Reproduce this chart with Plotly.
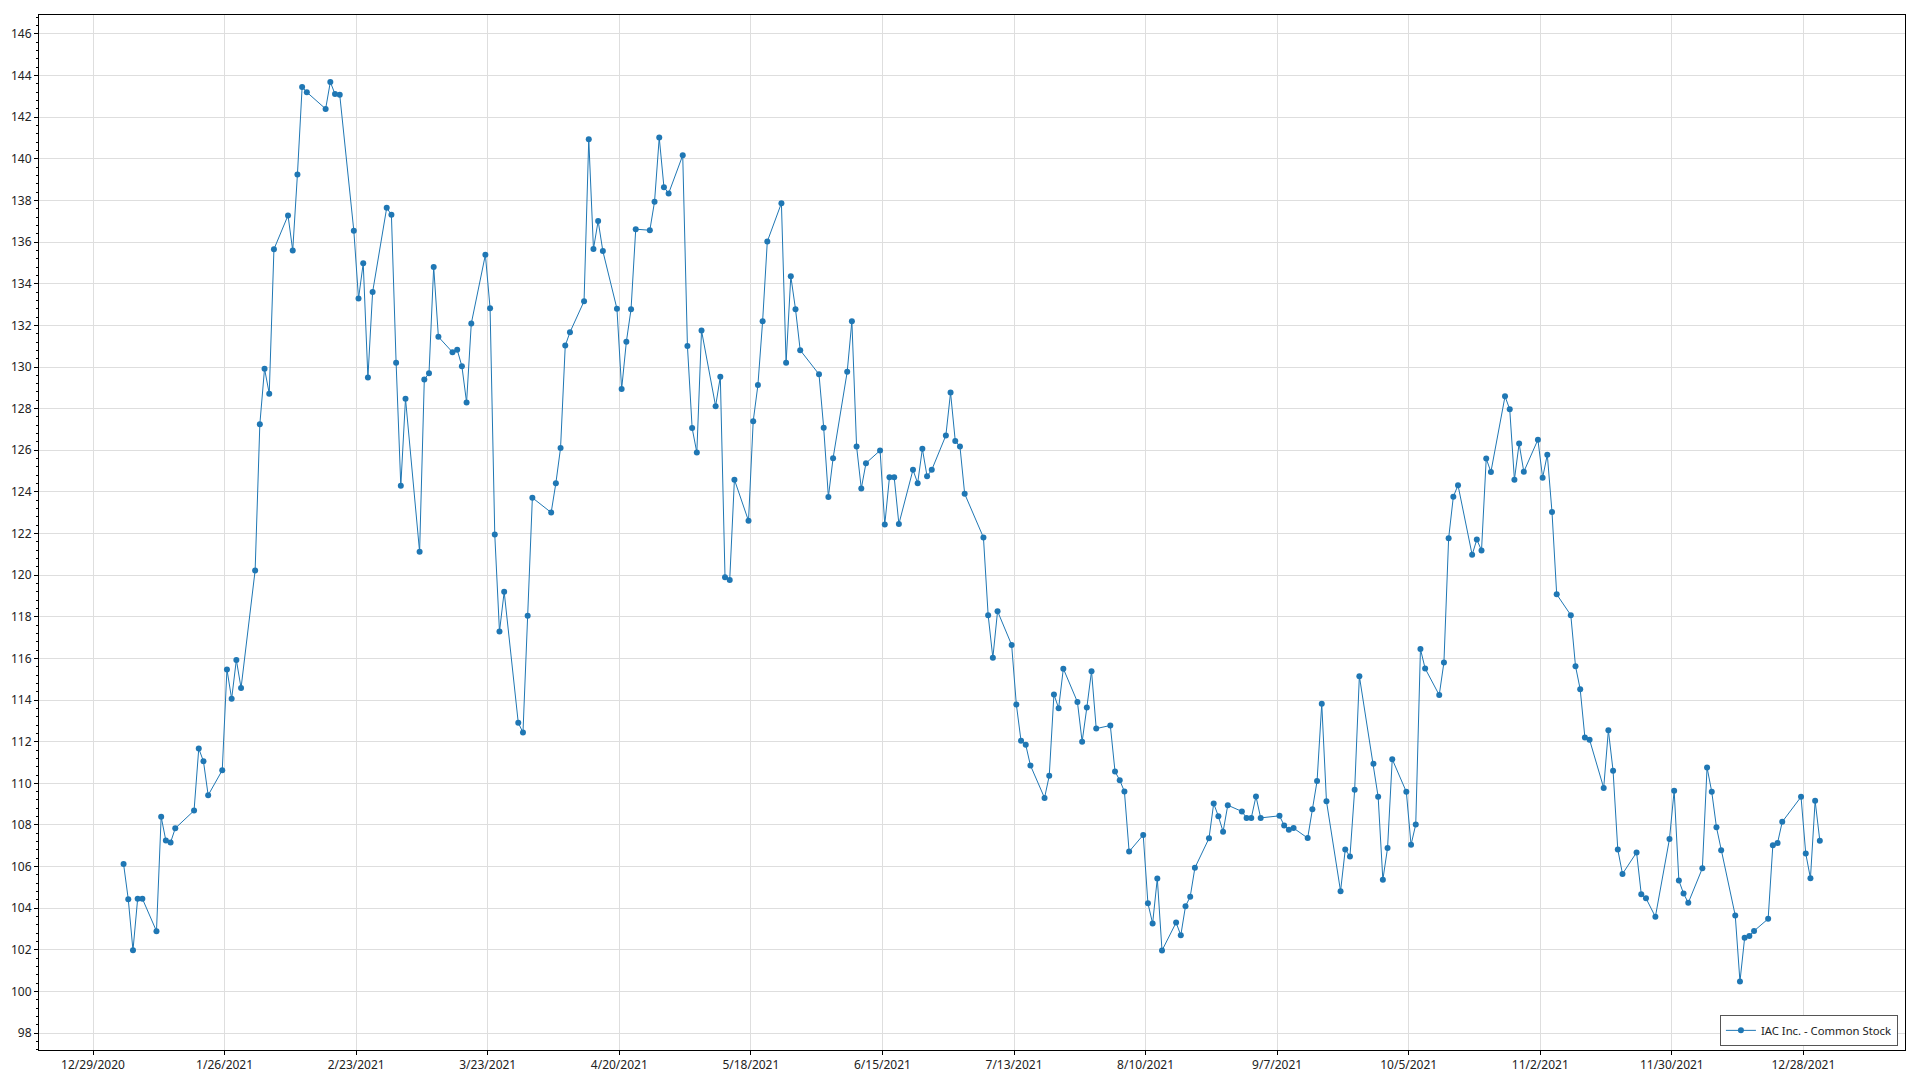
import pandas as pd
import plotly.graph_objects as go

SERIES_NAME = "IAC Inc. - Common Stock"

# NYSE holidays falling on weekdays in 2021 (market closed)
holidays = ["2021-01-01", "2021-01-18", "2021-02-15", "2021-04-02", "2021-05-31",
            "2021-07-05", "2021-09-06", "2021-11-25", "2021-12-24"]

# Closing prices per month (trading days in order)
jan = [106.12, 104.43, 101.98, 104.46, 104.46,
       102.90, 108.39, 107.25, 107.16, 107.84,
       108.69, 111.67, 111.06, 109.43,
       110.63, 115.47, 114.06, 115.93, 114.58]
feb = [120.23, 127.25, 129.92, 128.72, 135.66,
       137.28, 135.60, 139.25, 143.45, 143.20,
       142.40, 143.69, 143.11, 143.08,
       136.55, 133.29, 134.98, 129.49, 133.60]
mar = [137.65, 137.31, 130.20, 124.29, 128.48,
       121.12, 129.40, 129.70, 134.81, 131.45,
       130.71, 130.83, 130.04, 128.30, 132.09,
       135.39, 132.82, 121.95, 117.29, 119.20,
       112.91, 112.44, 118.05]
apr = [123.72,
       123.01, 124.42, 126.11, 131.03, 131.67,
       133.16, 140.94, 135.67, 137.02, 135.57,
       132.80, 128.94, 131.21, 132.78, 136.62,
       136.57, 137.94, 141.02, 138.64, 138.34]
may = [140.17, 131.01, 127.07, 125.89, 131.75,
       128.12, 129.53, 119.90, 119.77, 124.59,
       122.61, 127.40, 129.13, 132.20, 136.03,
       137.87, 130.20, 134.36, 132.78, 130.81]
jun = [129.65, 127.08, 123.76, 125.62,
       129.77, 132.20, 126.18, 124.16, 125.38,
       125.99, 122.43, 124.71, 124.71, 122.46,
       125.06, 124.42, 126.07, 124.75, 125.06,
       126.71, 128.77, 126.45]
jul = [126.18, 123.91,
       121.81, 118.08, 116.03, 118.27,
       116.65, 113.79, 112.04, 111.85, 110.86,
       109.30, 110.36, 114.27, 113.61, 115.51,
       113.91, 112.00, 113.64, 115.39, 112.63]
aug = [112.78, 110.57, 110.15, 109.61, 106.72,
       107.52, 104.24, 103.27, 105.43, 101.97,
       103.31, 102.70, 104.10, 104.55, 105.94,
       107.36, 109.03, 108.42, 107.68, 108.95,
       108.65, 108.34]
sep = [108.34, 109.37, 108.34,
       108.44, 107.98, 107.77, 107.85,
       107.37, 108.76, 110.11, 113.82, 109.14,
       104.82, 106.82, 106.49, 109.69, 115.15,
       110.94, 109.35, 105.37, 106.89]
oct_ = [111.16,
        109.59, 107.05, 108.02, 116.45, 115.52,
        114.24, 115.81, 121.77, 123.77, 124.32,
        120.98, 121.71, 121.19, 125.60, 124.96,
        128.59, 127.97, 124.59, 126.32, 124.97]
nov = [126.51, 124.68, 125.79, 123.03, 119.08,
       118.08, 115.63, 114.52, 112.20, 112.09,
       109.78, 112.55, 110.60, 106.82, 105.65,
       106.68, 104.67, 104.48, 103.59,
       107.33, 109.65]
dec = [105.33, 104.71, 104.26,
       105.92, 110.76, 109.59, 107.89, 106.79,
       103.65, 100.48, 102.58, 102.67, 102.91,
       103.49, 107.03, 107.14, 108.15,
       109.35, 106.63, 105.44, 109.16, 107.24]

prices = jan + feb + mar + apr + may + jun + jul + aug + sep + oct_ + nov + dec

trading_days = pd.bdate_range("2021-01-04", "2021-12-31").difference(pd.to_datetime(holidays))
assert len(trading_days) == len(prices), (len(trading_days), len(prices))
# timestamps are stamped mid-day in the source
dates = trading_days + pd.Timedelta(hours=12)

COLOR = "#1f77b4"
FONT = "Noto Sans"

fig = go.Figure()
fig.add_trace(go.Scatter(
    x=dates, y=prices, mode="lines+markers", name=SERIES_NAME,
    line=dict(color=COLOR, width=1),
    marker=dict(color=COLOR, size=6, line=dict(width=0)),
    showlegend=True,
))

fig.update_layout(
    width=1920, height=1080,
    margin=dict(l=39, r=15, t=15, b=30, pad=0),
    paper_bgcolor="white", plot_bgcolor="white",
    font=dict(family=FONT, size=12, color="#222222"),
    showlegend=True,
    legend=dict(
        x=0.9962, y=0.004, xanchor="right", yanchor="bottom",
        bgcolor="white", bordercolor="#555555", borderwidth=1,
        font=dict(family=FONT, size=11.3, color="#222222"),
    ),
    xaxis=dict(
        type="date",
        range=["2020-12-17 12:00", "2022-01-18 15:00"],
        tick0="2020-12-29", dtick=28 * 86400000,
        tickformat="%-m/%-d/%Y",
        showgrid=True, gridcolor="#dedede", gridwidth=1,
        showline=True, linecolor="black", linewidth=1, mirror=True,
        ticks="outside", ticklen=4, tickcolor="black",
        zeroline=False, automargin=False,
    ),
    yaxis=dict(
        range=[97.19, 146.91],
        dtick=2, tick0=0,
        showgrid=True, gridcolor="#dedede", gridwidth=1,
        showline=True, linecolor="black", linewidth=1, mirror=True,
        ticks="outside", ticklen=4, tickcolor="black",
        minor=dict(dtick=0.4, ticks="outside", ticklen=2, tickcolor="black", showgrid=False),
        zeroline=False, automargin=False,
    ),
)

fig.write_html(
    "out.html",
    config={"displayModeBar": False},
    post_script="document.body.style.margin='0';document.body.style.overflow='hidden';",
)
